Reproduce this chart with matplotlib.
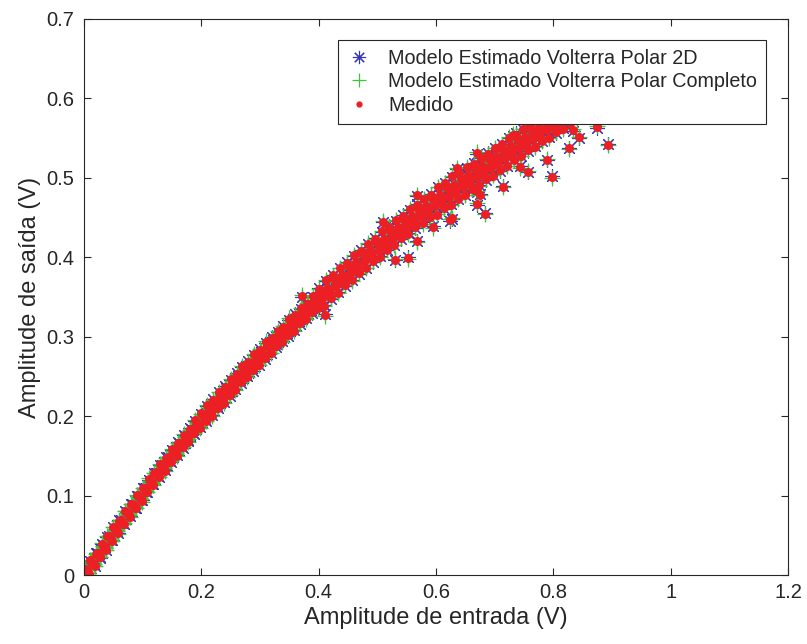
import matplotlib

matplotlib.use("Agg")
import matplotlib.pyplot as plt
from matplotlib.ticker import FuncFormatter

# amplitude de entrada (V), shared by the three series
entrada = [
    # band, middle
    0.005, 0.015, 0.025, 0.035, 0.045, 0.055, 0.065, 0.075, 0.085, 0.095,
    0.105, 0.115, 0.125, 0.135, 0.145, 0.155, 0.165, 0.175, 0.185, 0.195,
    0.205, 0.215, 0.225, 0.235, 0.245, 0.255, 0.265, 0.275, 0.285, 0.295,
    0.305, 0.315, 0.325, 0.335, 0.345, 0.355, 0.365, 0.375, 0.385, 0.395,
    # band, upper edge
    0.000, 0.010, 0.020, 0.030, 0.040, 0.050, 0.060, 0.070, 0.080, 0.090,
    0.100, 0.110, 0.120, 0.130, 0.140, 0.150, 0.160, 0.170, 0.180, 0.190,
    0.200, 0.210, 0.220, 0.230, 0.240, 0.250, 0.260, 0.270, 0.280, 0.290,
    0.300, 0.310, 0.320, 0.330, 0.340, 0.350, 0.360, 0.370, 0.380, 0.390,
    # band, lower edge
    0.008, 0.018, 0.028, 0.038, 0.048, 0.058, 0.068, 0.078, 0.088, 0.098,
    0.108, 0.118, 0.128, 0.138, 0.148, 0.158, 0.168, 0.178, 0.188, 0.198,
    0.208, 0.218, 0.228, 0.238, 0.248, 0.258, 0.268, 0.278, 0.288, 0.298,
    0.308, 0.318, 0.328, 0.338, 0.348, 0.358, 0.368, 0.378, 0.388, 0.398,
    # upper part of the band (wider)
    0.400, 0.412, 0.424, 0.436, 0.448, 0.460, 0.472, 0.484, 0.496, 0.508,
    0.520, 0.532, 0.544, 0.556, 0.568, 0.580, 0.592, 0.604, 0.616, 0.628,
    0.640, 0.652, 0.664, 0.676, 0.688, 0.700, 0.712, 0.724, 0.736, 0.748,
    0.760, 0.772, 0.784, 0.796, 0.808, 0.820, 0.832, 0.844,
    0.403, 0.415, 0.427, 0.439, 0.451, 0.463, 0.475, 0.487, 0.499, 0.511,
    0.523, 0.535, 0.547, 0.559, 0.571, 0.583, 0.595, 0.607, 0.619, 0.631,
    0.643, 0.655, 0.667, 0.679, 0.691, 0.703, 0.715, 0.727, 0.739, 0.751,
    0.763, 0.775, 0.787, 0.799, 0.811, 0.823, 0.835, 0.847,
    0.406, 0.418, 0.430, 0.442, 0.454, 0.466, 0.478, 0.490, 0.502, 0.514,
    0.526, 0.538, 0.550, 0.562, 0.574, 0.586, 0.598, 0.610, 0.622, 0.634,
    0.646, 0.658, 0.670, 0.682, 0.694, 0.706, 0.718, 0.730, 0.742, 0.754,
    0.766, 0.778, 0.790, 0.802, 0.814, 0.826, 0.838, 0.850,
    0.409, 0.421, 0.433, 0.445, 0.457, 0.469, 0.481, 0.493, 0.505, 0.517,
    0.529, 0.541, 0.553, 0.565, 0.577, 0.589, 0.601, 0.613, 0.625, 0.637,
    0.649, 0.661, 0.673, 0.685, 0.697, 0.709, 0.721, 0.733, 0.745, 0.757,
    0.769, 0.781, 0.793, 0.805, 0.817, 0.829, 0.841, 0.853,
    # scattered points
    0.893, 0.798, 0.789, 0.827, 0.844, 0.715, 0.683, 0.670, 0.675, 0.757,
    0.743, 0.628, 0.595, 0.567, 0.553, 0.530, 0.510, 0.635, 0.669, 0.732,
    0.874, 0.834, 0.567, 0.371, 0.411, 0.624, 0.669,
    # band, filling
    0.0025, 0.0125, 0.0225, 0.0325, 0.0425, 0.0525, 0.0625, 0.0725, 0.0825, 0.0925,
    0.1025, 0.1125, 0.1225, 0.1325, 0.1425, 0.1525, 0.1625, 0.1725, 0.1825, 0.1925,
    0.2025, 0.2125, 0.2225, 0.2325, 0.2425, 0.2525, 0.2625, 0.2725, 0.2825, 0.2925,
    0.3025, 0.3125, 0.3225, 0.3325, 0.3425, 0.3525, 0.3625, 0.3725, 0.3825, 0.3925,
    0.0065, 0.0165, 0.0265, 0.0365, 0.0465, 0.0565, 0.0665, 0.0765, 0.0865, 0.0965,
    0.1065, 0.1165, 0.1265, 0.1365, 0.1465, 0.1565, 0.1665, 0.1765, 0.1865, 0.1965,
    0.2065, 0.2165, 0.2265, 0.2365, 0.2465, 0.2565, 0.2665, 0.2765, 0.2865, 0.2965,
    0.3065, 0.3165, 0.3265, 0.3365, 0.3465, 0.3565, 0.3665, 0.3765, 0.3865, 0.3965,
    0.4075, 0.4195, 0.4315, 0.4435, 0.4555, 0.4675, 0.4795, 0.4915, 0.5035, 0.5155,
    0.5275, 0.5395, 0.5515, 0.5635, 0.5755, 0.5875, 0.5995, 0.6115, 0.6235, 0.6355,
    0.6475, 0.6595, 0.6715, 0.6835, 0.6955, 0.7075, 0.7195, 0.7315, 0.7435, 0.7555,
    0.7675, 0.7795, 0.7915, 0.8035, 0.8155, 0.8275, 0.8395, 0.8515,
]

# amplitude de saida medida (V)
saida_medida = [
    0.0062, 0.0147, 0.0281, 0.0355, 0.0478, 0.0571, 0.0654, 0.0786, 0.0878, 0.0969,
    0.1099, 0.1165, 0.1270, 0.1375, 0.1437, 0.1560, 0.1640, 0.1719, 0.1839, 0.1895,
    0.1991, 0.2087, 0.2140, 0.2252, 0.2325, 0.2395, 0.2503, 0.2553, 0.2639, 0.2724,
    0.2771, 0.2873, 0.2935, 0.2998, 0.3101, 0.3146, 0.3227, 0.3310, 0.3349, 0.3450,
    0.0060, 0.0185, 0.0269, 0.0393, 0.0487, 0.0605, 0.0683, 0.0805, 0.0892, 0.1009,
    0.1090, 0.1212, 0.1288, 0.1398, 0.1476, 0.1589, 0.1660, 0.1765, 0.1839, 0.1947,
    0.2034, 0.2135, 0.2204, 0.2307, 0.2370, 0.2465, 0.2530, 0.2629, 0.2687, 0.2778,
    0.2838, 0.2932, 0.2985, 0.3072, 0.3128, 0.3222, 0.3275, 0.3362, 0.3418, 0.3508,
    0.0014, 0.0108, 0.0232, 0.0316, 0.0434, 0.0523, 0.0645, 0.0732, 0.0849, 0.0930,
    0.1048, 0.1129, 0.1239, 0.1313, 0.1421, 0.1497, 0.1607, 0.1681, 0.1784, 0.1852,
    0.1937, 0.2007, 0.2105, 0.2168, 0.2264, 0.2329, 0.2428, 0.2491, 0.2583, 0.2638,
    0.2732, 0.2790, 0.2877, 0.2928, 0.3017, 0.3075, 0.3168, 0.3224, 0.3309, 0.3359,
    0.3603, 0.3710, 0.3772, 0.3867, 0.3930, 0.4028, 0.4083, 0.4173, 0.4228, 0.4327,
    0.4380, 0.4466, 0.4516, 0.4610, 0.4658, 0.4740, 0.4790, 0.4889, 0.4937, 0.5019,
    0.5059, 0.5134, 0.5179, 0.5255, 0.5302, 0.5378, 0.5424, 0.5505, 0.5545, 0.5620,
    0.5665, 0.5739, 0.5782, 0.5856, 0.5898, 0.5970, 0.6011, 0.6081,
    0.3548, 0.3615, 0.3717, 0.3782, 0.3875, 0.3937, 0.4026, 0.4086, 0.4176, 0.4235,
    0.4323, 0.4379, 0.4463, 0.4517, 0.4600, 0.4651, 0.4731, 0.4790, 0.4868, 0.4914,
    0.4989, 0.5034, 0.5109, 0.5155, 0.5232, 0.5278, 0.5354, 0.5400, 0.5475, 0.5520,
    0.5595, 0.5638, 0.5712, 0.5755, 0.5827, 0.5869, 0.5940, 0.5980,
    0.3474, 0.3541, 0.3637, 0.3701, 0.3794, 0.3855, 0.3945, 0.4005, 0.4095, 0.4153,
    0.4240, 0.4296, 0.4381, 0.4434, 0.4516, 0.4567, 0.4647, 0.4685, 0.4763, 0.4809,
    0.4884, 0.4929, 0.5005, 0.5051, 0.5127, 0.5173, 0.5249, 0.5295, 0.5370, 0.5415,
    0.5489, 0.5533, 0.5607, 0.5649, 0.5721, 0.5763, 0.5834, 0.5874,
    0.3389, 0.3486, 0.3552, 0.3646, 0.3708, 0.3799, 0.3859, 0.3949, 0.4008, 0.4097,
    0.4153, 0.4239, 0.4293, 0.4376, 0.4428, 0.4509, 0.4538, 0.4616, 0.4663, 0.4739,
    0.4784, 0.4859, 0.4905, 0.4981, 0.5028, 0.5104, 0.5150, 0.5225, 0.5270, 0.5345,
    0.5389, 0.5463, 0.5506, 0.5579, 0.5621, 0.5692, 0.5733, 0.5803,
    0.542, 0.501, 0.523, 0.537, 0.551, 0.489, 0.455, 0.467, 0.479, 0.508,
    0.514, 0.449, 0.438, 0.420, 0.399, 0.397, 0.445, 0.512, 0.531, 0.554,
    0.564, 0.560, 0.478, 0.351, 0.327, 0.447, 0.483,
    0.0071, 0.0166, 0.0280, 0.0374, 0.0488, 0.0581, 0.0694, 0.0786, 0.0898, 0.0990,
    0.1100, 0.1187, 0.1292, 0.1377, 0.1480, 0.1562, 0.1663, 0.1743, 0.1841, 0.1919,
    0.2016, 0.2092, 0.2185, 0.2258, 0.2350, 0.2420, 0.2510, 0.2578, 0.2666, 0.2731,
    0.2816, 0.2880, 0.2962, 0.3024, 0.3106, 0.3170, 0.3253, 0.3315, 0.3396, 0.3456,
    0.0023, 0.0138, 0.0232, 0.0346, 0.0439, 0.0552, 0.0645, 0.0757, 0.0848, 0.0960,
    0.1051, 0.1157, 0.1242, 0.1347, 0.1429, 0.1531, 0.1611, 0.1710, 0.1788, 0.1885,
    0.1961, 0.2056, 0.2129, 0.2221, 0.2293, 0.2382, 0.2452, 0.2540, 0.2607, 0.2693,
    0.2757, 0.2841, 0.2903, 0.2985, 0.3045, 0.3129, 0.3191, 0.3273, 0.3333, 0.3413,
    0.3528, 0.3600, 0.3692, 0.3762, 0.3850, 0.3915, 0.4000, 0.4065, 0.4150, 0.4214,
    0.4294, 0.4355, 0.4435, 0.4494, 0.4572, 0.4626, 0.4701, 0.4755, 0.4828, 0.4880,
    0.4948, 0.4998, 0.5068, 0.5119, 0.5191, 0.5240, 0.5311, 0.5362, 0.5432, 0.5482,
    0.5552, 0.5601, 0.5669, 0.5718, 0.5785, 0.5832, 0.5898, 0.5943,
]

# saida estimada, modelo Volterra polar 2D
saida_volterra_2d = [
    0.007, 0.015, 0.027, 0.036, 0.048, 0.058, 0.066, 0.078, 0.088, 0.098,
    0.109, 0.117, 0.128, 0.137, 0.145, 0.155, 0.164, 0.173, 0.183, 0.190,
    0.200, 0.208, 0.215, 0.225, 0.232, 0.241, 0.249, 0.256, 0.264, 0.271,
    0.278, 0.286, 0.294, 0.301, 0.309, 0.316, 0.323, 0.330, 0.336, 0.344,
    0.007, 0.018, 0.028, 0.039, 0.048, 0.060, 0.069, 0.080, 0.090, 0.100,
    0.110, 0.120, 0.129, 0.139, 0.148, 0.158, 0.167, 0.176, 0.185, 0.194,
    0.203, 0.213, 0.221, 0.230, 0.238, 0.246, 0.254, 0.262, 0.269, 0.277,
    0.285, 0.292, 0.300, 0.306, 0.314, 0.321, 0.328, 0.335, 0.343, 0.350,
    0.002, 0.011, 0.022, 0.032, 0.044, 0.053, 0.064, 0.074, 0.084, 0.094,
    0.104, 0.114, 0.123, 0.132, 0.142, 0.151, 0.160, 0.169, 0.178, 0.186,
    0.194, 0.202, 0.210, 0.218, 0.226, 0.234, 0.242, 0.250, 0.257, 0.265,
    0.272, 0.280, 0.287, 0.294, 0.301, 0.308, 0.316, 0.323, 0.330, 0.337,
    0.361, 0.370, 0.378, 0.386, 0.394, 0.402, 0.409, 0.417, 0.424, 0.432,
    0.439, 0.446, 0.453, 0.460, 0.467, 0.474, 0.480, 0.488, 0.494, 0.501,
    0.507, 0.513, 0.519, 0.525, 0.531, 0.537, 0.543, 0.550, 0.556, 0.562,
    0.567, 0.573, 0.579, 0.585, 0.590, 0.596, 0.602, 0.607,
    0.354, 0.363, 0.371, 0.379, 0.387, 0.395, 0.402, 0.410, 0.417, 0.424,
    0.431, 0.438, 0.445, 0.452, 0.459, 0.466, 0.472, 0.479, 0.486, 0.492,
    0.498, 0.504, 0.510, 0.516, 0.522, 0.528, 0.534, 0.540, 0.547, 0.553,
    0.559, 0.564, 0.570, 0.576, 0.582, 0.587, 0.593, 0.598,
    0.348, 0.355, 0.363, 0.371, 0.378, 0.386, 0.394, 0.401, 0.409, 0.416,
    0.423, 0.430, 0.437, 0.444, 0.451, 0.457, 0.464, 0.470, 0.476, 0.482,
    0.488, 0.494, 0.500, 0.506, 0.512, 0.518, 0.524, 0.530, 0.536, 0.542,
    0.548, 0.554, 0.560, 0.565, 0.571, 0.577, 0.582, 0.588,
    0.340, 0.348, 0.356, 0.364, 0.372, 0.379, 0.387, 0.394, 0.402, 0.409,
    0.416, 0.423, 0.430, 0.437, 0.444, 0.450, 0.455, 0.461, 0.467, 0.473,
    0.479, 0.485, 0.491, 0.497, 0.503, 0.509, 0.515, 0.522, 0.528, 0.534,
    0.540, 0.546, 0.551, 0.557, 0.563, 0.568, 0.574, 0.579,
    0.543, 0.502, 0.522, 0.538, 0.550, 0.490, 0.456, 0.466, 0.480, 0.507,
    0.515, 0.448, 0.439, 0.421, 0.400, 0.396, 0.444, 0.511, 0.530, 0.553,
    0.563, 0.559, 0.477, 0.350, 0.328, 0.446, 0.482,
    0.007, 0.017, 0.028, 0.038, 0.049, 0.058, 0.069, 0.079, 0.090, 0.099,
    0.110, 0.119, 0.129, 0.138, 0.148, 0.156, 0.166, 0.175, 0.184, 0.192,
    0.201, 0.210, 0.218, 0.226, 0.235, 0.242, 0.251, 0.258, 0.266, 0.273,
    0.281, 0.288, 0.296, 0.303, 0.310, 0.317, 0.325, 0.332, 0.339, 0.346,
    0.003, 0.014, 0.023, 0.035, 0.044, 0.055, 0.065, 0.075, 0.085, 0.095,
    0.105, 0.115, 0.125, 0.134, 0.143, 0.152, 0.161, 0.170, 0.179, 0.188,
    0.196, 0.205, 0.213, 0.221, 0.230, 0.238, 0.246, 0.253, 0.261, 0.269,
    0.276, 0.283, 0.291, 0.298, 0.305, 0.312, 0.320, 0.327, 0.334, 0.341,
    0.353, 0.360, 0.369, 0.377, 0.385, 0.392, 0.400, 0.407, 0.414, 0.421,
    0.429, 0.436, 0.443, 0.450, 0.457, 0.463, 0.470, 0.476, 0.482, 0.488,
    0.494, 0.500, 0.506, 0.512, 0.518, 0.524, 0.531, 0.537, 0.543, 0.549,
    0.555, 0.560, 0.566, 0.572, 0.578, 0.583, 0.589, 0.595,
]

# saida estimada, modelo Volterra polar completo
saida_volterra_completo = [
    0.006, 0.016, 0.028, 0.035, 0.047, 0.057, 0.066, 0.079, 0.087, 0.097,
    0.110, 0.116, 0.127, 0.138, 0.145, 0.156, 0.163, 0.172, 0.184, 0.191,
    0.199, 0.209, 0.215, 0.226, 0.233, 0.240, 0.250, 0.256, 0.263, 0.272,
    0.278, 0.287, 0.293, 0.300, 0.310, 0.315, 0.322, 0.331, 0.336, 0.345,
    0.006, 0.019, 0.027, 0.040, 0.049, 0.061, 0.068, 0.081, 0.089, 0.101,
    0.109, 0.122, 0.128, 0.140, 0.147, 0.159, 0.166, 0.177, 0.183, 0.195,
    0.203, 0.214, 0.220, 0.231, 0.236, 0.247, 0.253, 0.263, 0.268, 0.278,
    0.284, 0.294, 0.298, 0.307, 0.313, 0.323, 0.327, 0.336, 0.342, 0.351,
    0.000, 0.011, 0.023, 0.031, 0.043, 0.052, 0.065, 0.073, 0.085, 0.092,
    0.105, 0.113, 0.124, 0.131, 0.143, 0.150, 0.161, 0.168, 0.179, 0.185,
    0.194, 0.200, 0.211, 0.217, 0.227, 0.233, 0.243, 0.249, 0.259, 0.264,
    0.274, 0.279, 0.288, 0.293, 0.302, 0.307, 0.317, 0.322, 0.331, 0.336,
    0.360, 0.371, 0.377, 0.387, 0.393, 0.403, 0.408, 0.418, 0.423, 0.433,
    0.438, 0.447, 0.451, 0.461, 0.466, 0.474, 0.479, 0.489, 0.493, 0.502,
    0.506, 0.514, 0.518, 0.526, 0.530, 0.538, 0.542, 0.551, 0.554, 0.562,
    0.566, 0.574, 0.578, 0.586, 0.590, 0.597, 0.601, 0.608,
    0.355, 0.362, 0.371, 0.378, 0.388, 0.394, 0.403, 0.408, 0.418, 0.423,
    0.432, 0.438, 0.447, 0.452, 0.460, 0.465, 0.473, 0.478, 0.487, 0.491,
    0.499, 0.503, 0.511, 0.515, 0.523, 0.528, 0.536, 0.540, 0.548, 0.552,
    0.560, 0.564, 0.571, 0.575, 0.583, 0.587, 0.594, 0.598,
    0.347, 0.354, 0.364, 0.369, 0.379, 0.385, 0.395, 0.400, 0.410, 0.415,
    0.424, 0.429, 0.438, 0.443, 0.452, 0.456, 0.465, 0.468, 0.476, 0.481,
    0.489, 0.493, 0.501, 0.505, 0.513, 0.517, 0.525, 0.529, 0.537, 0.541,
    0.549, 0.553, 0.561, 0.565, 0.572, 0.576, 0.583, 0.587,
    0.339, 0.349, 0.355, 0.365, 0.370, 0.380, 0.386, 0.395, 0.401, 0.410,
    0.415, 0.424, 0.429, 0.438, 0.442, 0.451, 0.454, 0.462, 0.466, 0.474,
    0.478, 0.486, 0.490, 0.498, 0.503, 0.510, 0.515, 0.523, 0.527, 0.535,
    0.539, 0.546, 0.550, 0.558, 0.562, 0.569, 0.573, 0.580,
    0.541, 0.500, 0.524, 0.536, 0.552, 0.488, 0.454, 0.468, 0.478, 0.509,
    0.513, 0.450, 0.437, 0.419, 0.398, 0.398, 0.446, 0.513, 0.532, 0.555,
    0.565, 0.561, 0.479, 0.352, 0.326, 0.448, 0.484,
    0.007, 0.016, 0.028, 0.037, 0.049, 0.058, 0.069, 0.078, 0.090, 0.099,
    0.110, 0.118, 0.129, 0.137, 0.148, 0.156, 0.166, 0.174, 0.184, 0.192,
    0.202, 0.209, 0.219, 0.226, 0.235, 0.242, 0.251, 0.258, 0.267, 0.273,
    0.282, 0.288, 0.296, 0.302, 0.311, 0.317, 0.325, 0.331, 0.340, 0.345,
    0.002, 0.014, 0.023, 0.034, 0.044, 0.055, 0.064, 0.076, 0.085, 0.096,
    0.105, 0.116, 0.124, 0.135, 0.143, 0.153, 0.161, 0.171, 0.179, 0.188,
    0.196, 0.206, 0.213, 0.222, 0.229, 0.238, 0.245, 0.254, 0.261, 0.269,
    0.276, 0.284, 0.290, 0.298, 0.305, 0.313, 0.319, 0.327, 0.333, 0.341,
    0.353, 0.360, 0.369, 0.376, 0.385, 0.391, 0.400, 0.406, 0.415, 0.421,
    0.429, 0.435, 0.444, 0.449, 0.457, 0.462, 0.470, 0.475, 0.483, 0.488,
    0.495, 0.500, 0.507, 0.512, 0.519, 0.524, 0.531, 0.536, 0.543, 0.548,
    0.555, 0.560, 0.567, 0.572, 0.579, 0.583, 0.590, 0.594,
]

x_ticks = [0, 0.2, 0.4, 0.6, 0.8, 1, 1.2]
y_ticks = [0, 0.1, 0.2, 0.3, 0.4, 0.5, 0.6, 0.7]

legendas = [
    "Modelo Estimado Volterra Polar 2D",
    "Modelo Estimado Volterra Polar Completo",
    "Medido",
]

AXIS_COLOR = "#262626"

plt.rcParams["font.family"] = ["Liberation Sans", "DejaVu Sans"]

fig = plt.figure(figsize=(8.07, 6.44), dpi=100)
ax = fig.add_axes([0.1041, 0.1071, 0.8724, 0.8634])

ax.plot(entrada, saida_volterra_2d, linestyle="none", marker=(8, 2, 0),
        markersize=10.5, markeredgewidth=0.8, color="#3434bc", label=legendas[0])
ax.plot(entrada, saida_volterra_completo, linestyle="none", marker="+",
        markersize=11.5, markeredgewidth=0.9, color="#3cc43c", label=legendas[1])
ax.plot(entrada, saida_medida, linestyle="none", marker=".",
        markersize=11, color="#ec2024", label=legendas[2])

ax.set_xlim(0, 1.2)
ax.set_ylim(0, 0.7)
ax.set_xticks(x_ticks)
ax.set_yticks(y_ticks)
fmt = FuncFormatter(lambda v, _: f"{v:g}")
ax.xaxis.set_major_formatter(fmt)
ax.yaxis.set_major_formatter(fmt)

ax.tick_params(direction="in", top=True, right=True, length=5, width=0.8,
               labelsize=14.5, colors=AXIS_COLOR)
ax.tick_params(axis="x", pad=6)
ax.tick_params(axis="y", pad=7)
for sp in ax.spines.values():
    sp.set_color(AXIS_COLOR)
    sp.set_linewidth(0.8)

ax.set_xlabel("Amplitude de entrada (V)", fontsize=17, color=AXIS_COLOR, labelpad=3)
ax.set_ylabel("Amplitude de saída (V)", fontsize=17, color=AXIS_COLOR, labelpad=4)

leg = ax.legend(loc="upper right", bbox_to_anchor=(0.969, 0.962), borderaxespad=0,
                fontsize=14.2, fancybox=False, framealpha=1, edgecolor=AXIS_COLOR,
                borderpad=0.45, labelspacing=0.22, handlelength=1.2, handletextpad=0.9)
leg.get_frame().set_linewidth(0.8)
leg.legend_handles[0].set_markersize(9.5)
leg.legend_handles[1].set_markersize(10.5)
leg.legend_handles[2].set_markersize(7)
for t in leg.get_texts():
    t.set_color(AXIS_COLOR)

fig.savefig("out.png", dpi=100)
